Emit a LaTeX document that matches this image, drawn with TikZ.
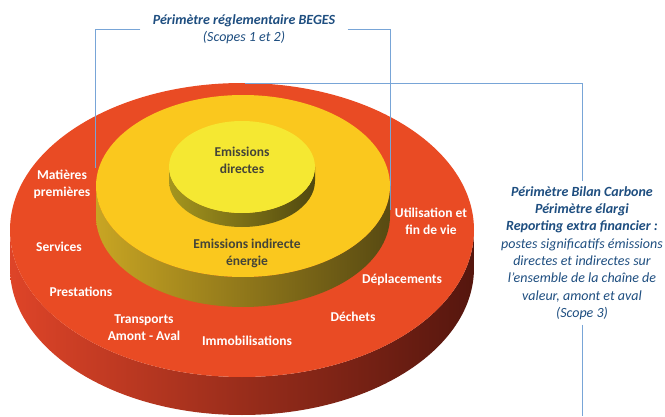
\documentclass[tikz,border=0pt]{standalone}
\usepackage{fontspec}
\setmainfont{Carlito}
\definecolor{redtop}{RGB}{233,75,36}
\definecolor{redL}{RGB}{222,68,40}
\definecolor{redM}{RGB}{140,35,22}
\definecolor{redD}{RGB}{85,22,14}
\definecolor{goldtop}{RGB}{250,200,30}
\definecolor{goldL}{RGB}{200,165,35}
\definecolor{goldM}{RGB}{130,108,25}
\definecolor{goldD}{RGB}{88,74,18}
\definecolor{coretop}{RGB}{245,232,50}
\definecolor{coreL}{RGB}{165,150,30}
\definecolor{coreM}{RGB}{120,110,25}
\definecolor{coreD}{RGB}{80,72,15}
\definecolor{darktxt}{RGB}{68,68,56}
\definecolor{bluetxt}{RGB}{30,78,128}
\definecolor{lineblue}{RGB}{120,165,215}
\begin{document}
\begin{tikzpicture}[x=1pt,y=1pt,
  lblfont/.style={font=\bfseries\fontsize{13.5}{17}\selectfont, align=center, inner sep=1pt},
  whitelbl/.style={lblfont, text=white},
  darklbl/.style={lblfont, text=darktxt},
  scopetext/.style={font=\itshape\fontsize{14}{17.3}\selectfont, text=bluetxt, align=center, fill=white},
  bracket/.style={draw=lineblue, line width=0.9pt},
]
\useasboundingbox (0,0) rectangle (665,416);

% scope captions
\node[scopetext, minimum width=207pt, inner ysep=2pt] (beges) at (244,386.5)
  {\textbf{Périmètre réglementaire BEGES}\\(Scopes 1 et 2)};
\node[scopetext, inner sep=5pt] (bilan) at (582,163)
  {\textbf{Périmètre Bilan Carbone}\\\textbf{Périmètre élargi}\\\textbf{Reporting extra financier :}\\postes significatifs émissions\\directes et indirectes sur\\l’ensemble de la chaîne de\\valeur, amont et aval\\(Scope 3)};

% outer disc (scope 3)
\path[left color=redL, middle color=redM, right color=redD]
  (10,186) arc[start angle=180, end angle=360, x radius=232pt, y radius=147pt]
  -- ++(0,-38) arc[start angle=0, end angle=-180, x radius=232pt, y radius=147pt] -- cycle;
\fill[redtop] (242,186) ellipse[x radius=232pt, y radius=147pt];

% bracket ends
\coordinate (begesL) at (95,248);
\coordinate (begesR) at (390,206);
\coordinate (bilanTop) at (245,333);
\coordinate (bilanEnd) at (582,0);

% brackets, partly hidden behind the middle disc
\draw[bracket] (beges.west) -| (begesL);
\draw[bracket] (beges.east) -| (begesR);
\draw[bracket] (bilanTop) -| (bilan.north);
\draw[bracket] (bilan.south) -- (bilanEnd);

% middle disc (indirect energy)
\path[left color=goldL, middle color=goldM, right color=goldD]
  (96,230) arc[start angle=180, end angle=360, x radius=147pt, y radius=91pt]
  -- ++(0,-30) arc[start angle=0, end angle=-180, x radius=147pt, y radius=91pt] -- cycle;
\fill[goldtop] (243,230) ellipse[x radius=147pt, y radius=91pt];

% inner disc (direct emissions)
\path[left color=coreL, middle color=coreM, right color=coreD]
  (169,249) arc[start angle=180, end angle=360, x radius=73pt, y radius=46pt]
  -- ++(0,-14) arc[start angle=0, end angle=-180, x radius=73pt, y radius=46pt] -- cycle;
\fill[coretop] (242,249) ellipse[x radius=73pt, y radius=46pt];

% disc labels
\node[darklbl] (direct) at (242,255.5) {Emissions\\directes};
\node[darklbl] (indirect) at (247,163) {Emissions indirecte\\énergie};

\node[whitelbl] (mat) at (62,231.5) {Matières\\premières};
\node[whitelbl] (serv) at (59,169) {Services};
\node[whitelbl] (prest) at (81,124) {Prestations};
\node[whitelbl] (transp) at (144,88) {Transports\\Amont - Aval};
\node[whitelbl] (immo) at (247,75) {Immobilisations};
\node[whitelbl] (dech) at (353,99) {Déchets};
\node[whitelbl] (depl) at (402,136) {Déplacements};
\node[whitelbl] (util) at (431,195) {Utilisation et\\fin de vie};
\end{tikzpicture}
\end{document}
